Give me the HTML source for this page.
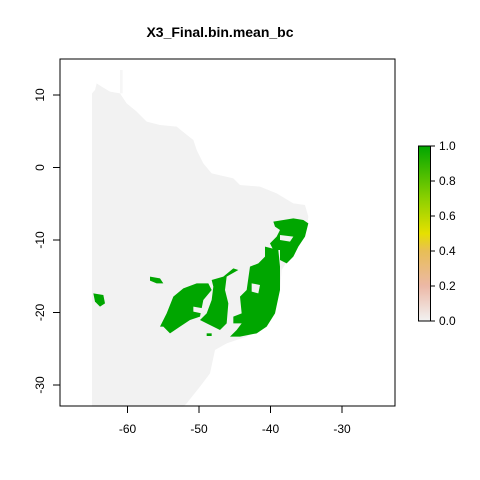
<!DOCTYPE html>
<html><head><meta charset="utf-8"><style>
body{margin:0;background:#fff;}
svg{display:block;font-family:"Liberation Sans",Arial,sans-serif;}
</style></head><body>
<svg width="480" height="480">
<defs>
<linearGradient id="g" x1="0" y1="1" x2="0" y2="0">
<stop offset="0" stop-color="#F2F2F2"/>
<stop offset="0.2" stop-color="#ECB8A6"/>
<stop offset="0.4" stop-color="#E8BE56"/>
<stop offset="0.5" stop-color="#E6E000"/>
<stop offset="0.7" stop-color="#8CD000"/>
<stop offset="1" stop-color="#00A600"/>
</linearGradient>
</defs>
<text x="220" y="37" text-anchor="middle" font-size="14" font-weight="bold">X3_Final.bin.mean_bc</text>
<g transform="translate(60,50) scale(0.33333)">
<polygon fill="#F2F2F2" points="96,1070 96,130 105,120 110,100 125,110 150,125 180,130 200,160 230,185 260,215 300,225 350,230 375,250 400,270 410,300 430,340 455,370 520,385 540,405 600,410 650,430 700,460 735,465 745,500 740,540 720,580 690,620 665,660 660,720 640,790 610,830 560,860 500,880 465,900 450,970 420,1010 380,1060 370,1070"/>
<polygon fill="#F6F6F6" points="180,60 188,60 188,130 180,130"/>
<g fill="#00A600">
<polygon points="640,515 700,505 730,510 745,520 735,560 715,590 700,620 680,640 660,630 660,600 640,600 630,580 650,560 660,540 645,530"/>
<polygon points="615,590 655,600 660,650 660,720 645,790 620,830 590,850 540,860 510,860 530,840 545,820 520,820 520,800 545,790 540,740 560,720 570,650 595,640 615,620"/>
<polygon points="455,690 490,680 520,655 535,660 500,680 495,720 505,760 500,820 480,840 440,820 420,810 440,790 455,750 460,710"/>
<polygon points="300,830 320,790 340,740 370,715 410,700 445,700 455,720 430,750 420,800 390,810 360,830 330,850 310,830"/>
<polygon points="270,680 300,685 310,700 290,700 270,692"/>
<polygon points="100,730 130,735 135,760 120,770 105,755"/>
<polygon points="440,850 455,850 455,858 440,858"/>
</g>
<g fill="#F2F2F2">
<polygon points="660,555 700,560 690,575 660,570"/>
<polygon points="575,700 600,705 595,730 575,725"/>
<polygon points="400,770 430,775 425,790 400,785"/>
</g>
</g>
<rect x="60" y="59" width="335" height="347" fill="none" stroke="#000"/>
<g font-size="12" text-anchor="middle">
<line x1="127.5" y1="406" x2="127.5" y2="413" stroke="#000"/><text x="127.5" y="433">-60</text>
<line x1="199" y1="406" x2="199" y2="413" stroke="#000"/><text x="199" y="433">-50</text>
<line x1="270.5" y1="406" x2="270.5" y2="413" stroke="#000"/><text x="270.5" y="433">-40</text>
<line x1="342" y1="406" x2="342" y2="413" stroke="#000"/><text x="342" y="433">-30</text>
</g>
<g font-size="12" text-anchor="middle">
<line x1="53" y1="95" x2="60" y2="95" stroke="#000"/><text transform="translate(44,95) rotate(-90)">10</text>
<line x1="53" y1="167.5" x2="60" y2="167.5" stroke="#000"/><text transform="translate(44,167.5) rotate(-90)">0</text>
<line x1="53" y1="240" x2="60" y2="240" stroke="#000"/><text transform="translate(44,240) rotate(-90)">-10</text>
<line x1="53" y1="312.5" x2="60" y2="312.5" stroke="#000"/><text transform="translate(44,312.5) rotate(-90)">-20</text>
<line x1="53" y1="385" x2="60" y2="385" stroke="#000"/><text transform="translate(44,385) rotate(-90)">-30</text>
</g>
<g>
<rect x="418.5" y="146" width="12" height="175" fill="url(#g)" stroke="#000"/>
<g font-size="12" stroke="#000">
<line x1="430.5" y1="146" x2="435" y2="146"/><line x1="430.5" y1="181" x2="435" y2="181"/><line x1="430.5" y1="216" x2="435" y2="216"/><line x1="430.5" y1="251" x2="435" y2="251"/><line x1="430.5" y1="286" x2="435" y2="286"/><line x1="430.5" y1="321" x2="435" y2="321"/>
</g>
<g font-size="12">
<text x="439" y="150">1.0</text><text x="439" y="185">0.8</text><text x="439" y="220">0.6</text><text x="439" y="255">0.4</text><text x="439" y="290">0.2</text><text x="439" y="325">0.0</text>
</g>
</g>
</svg>
</body></html>
